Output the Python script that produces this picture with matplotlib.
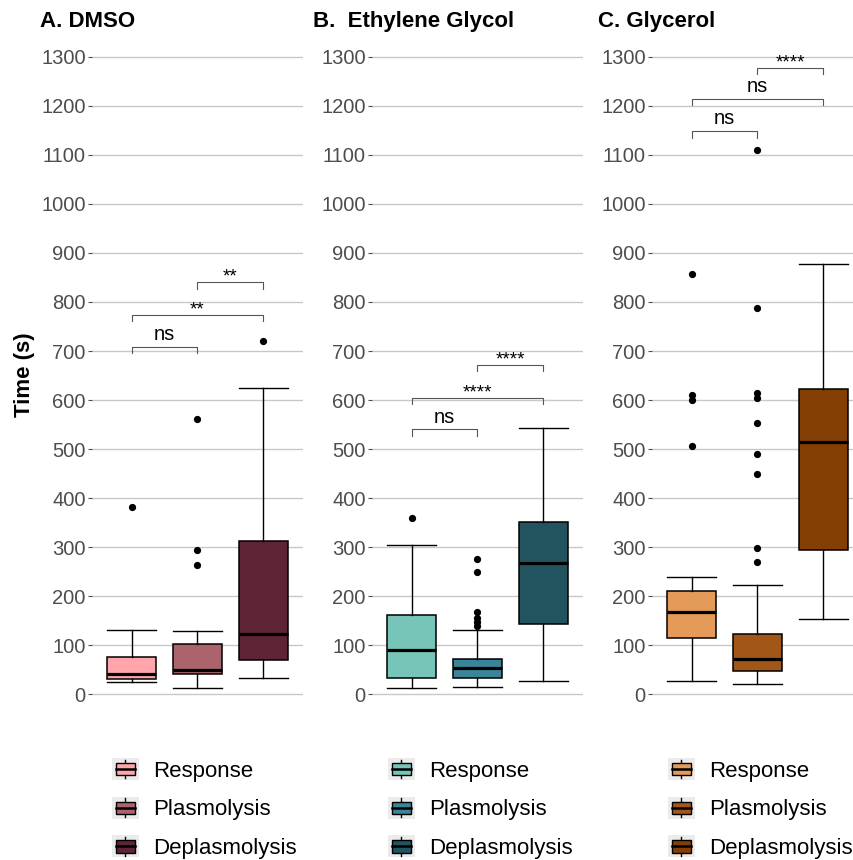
import matplotlib.pyplot as plt
from matplotlib.patches import Patch, Rectangle
from matplotlib.lines import Line2D
from matplotlib.legend_handler import HandlerBase

plt.rcParams['font.family'] = ['Liberation Sans', 'DejaVu Sans']

# data (seconds)
categories = ['Response', 'Plasmolysis', 'Deplasmolysis']

dmso_low = [26, 12, 33]
dmso_q1 = [31, 41, 71]
dmso_med = [42, 50, 123]
dmso_q3 = [77, 102, 312]
dmso_high = [132, 130, 625]
dmso_out = [[382], [561, 294, 264], [721]]

eg_low = [12, 14, 27]
eg_q1 = [33, 34, 143]
eg_med = [91, 54, 267]
eg_q3 = [162, 73, 351]
eg_high = [305, 132, 543]
eg_out = [[360], [276, 250, 167, 156, 148, 140], []]

gly_low = [28, 22, 153]
gly_q1 = [114, 48, 294]
gly_med = [168, 73, 514]
gly_q3 = [210, 123, 623]
gly_high = [240, 222, 878]
gly_out = [[857, 611, 601, 507], [1110, 787, 614, 604, 554, 489, 450, 299, 270], []]

# significance brackets: pairs, heights, labels
pairs = [(1, 2), (1, 3), (2, 3)]
dmso_sig_y = [709, 774, 840]
dmso_sig = ['ns', '**', '**']
eg_sig_y = [540, 605, 672]
eg_sig = ['ns', '****', '****']
gly_sig_y = [1148, 1214, 1278]
gly_sig = ['ns', 'ns', '****']

dmso_colors = ['#FFA5AB', '#AC646C', '#5E2434']
eg_colors = ['#77C4B9', '#3A8698', '#225460']
gly_colors = ['#E49A58', '#A25618', '#844004']

titles = ['A. DMSO', 'B.  Ethylene Glycol', 'C. Glycerol']
yticks = list(range(0, 1400, 100))


class BoxKey(HandlerBase):
    def create_artists(self, legend, orig_handle, xdescent, ydescent,
                       width, height, fontsize, trans):
        x0, y0 = -xdescent, -ydescent
        cx, cy = x0 + width / 2, y0 + height / 2
        bg = Rectangle((x0, y0), width, height, facecolor='#EBEBEB',
                       edgecolor='none', transform=trans)
        wl = Line2D([cx, cx], [y0 + 0.08 * height, y0 + 0.92 * height],
                    color='black', lw=1, transform=trans)
        bw, bh = 0.72 * width, 0.56 * height
        box = Rectangle((cx - bw / 2, cy - bh / 2), bw, bh,
                        facecolor=orig_handle.get_facecolor(),
                        edgecolor='black', lw=1, transform=trans)
        med = Line2D([cx - bw / 2, cx + bw / 2], [cy, cy], color='black',
                     lw=1.8, transform=trans)
        return [bg, wl, box, med]


fig = plt.figure(figsize=(8.54, 8.6), dpi=100)

panels = [
    (dmso_low, dmso_q1, dmso_med, dmso_q3, dmso_high, dmso_out, dmso_colors, dmso_sig_y, dmso_sig),
    (eg_low, eg_q1, eg_med, eg_q3, eg_high, eg_out, eg_colors, eg_sig_y, eg_sig),
    (gly_low, gly_q1, gly_med, gly_q3, gly_high, gly_out, gly_colors, gly_sig_y, gly_sig),
]
lefts = [92, 372, 652]
title_x = [40, 313, 598]
legend_x = [112, 388, 668]

for i, (lo, q1, med, q3, hi, out, cols, sy, sl) in enumerate(panels):
    ax = fig.add_axes([lefts[i] / 854, 1 - 712 / 860, 211 / 854, 670 / 860])
    stats = []
    for j in range(3):
        stats.append(dict(whislo=lo[j], q1=q1[j], med=med[j], q3=q3[j],
                          whishi=hi[j], fliers=out[j], label=categories[j]))
    bp = ax.bxp(stats, positions=[1, 2, 3], widths=0.75, capwidths=0.75,
                patch_artist=True, showfliers=True,
                boxprops=dict(edgecolor='black', linewidth=1.1),
                medianprops=dict(color='black', linewidth=2.3),
                whiskerprops=dict(color='black', linewidth=1.0),
                capprops=dict(color='black', linewidth=1.0),
                flierprops=dict(marker='o', markerfacecolor='black',
                                markeredgecolor='black', markersize=4.2))
    for patch, c in zip(bp['boxes'], cols):
        patch.set_facecolor(c)
        patch.set_zorder(3)
    for key in ['medians', 'whiskers', 'caps', 'fliers']:
        for a in bp[key]:
            a.set_zorder(3)

    # brackets
    for (a, b), y, lab in zip(pairs, sy, sl):
        ax.plot([a, a, b, b], [y - 13, y, y, y - 13], color='#555555', lw=0.8, zorder=4)
        if lab == 'ns':
            ax.text((a + b) / 2, y + 14, lab, ha='center', va='baseline', fontsize=14.5, color='black')
        else:
            ax.text((a + b) / 2, y + 1, lab, ha='center', va='baseline', fontsize=13.5, color='black')

    ax.set_xlim(0.4, 3.6)
    ax.set_ylim(-36, 1330)
    ax.set_yticks(yticks)
    ax.set_xticks([])
    ax.yaxis.grid(True, color='#C8C8C8', linewidth=1.0)
    ax.set_axisbelow(True)
    for s in ax.spines.values():
        s.set_visible(False)
    ax.tick_params(axis='y', length=3, width=0.8, color='#4D4D4D', pad=1.5,
                   labelsize=14.5, labelcolor='#4D4D4D')

    fig.text(title_x[i] / 854, 1 - 27 / 860, titles[i], fontsize=16,
             fontweight='bold', ha='left', va='baseline')

    handles = [Patch(facecolor=c, label=l) for c, l in zip(cols, categories)]
    fig.legend(handles=handles, loc='upper left',
               bbox_to_anchor=(legend_x[i] / 854, 1 - 758 / 860),
               bbox_transform=fig.transFigure, frameon=False, borderpad=0,
               borderaxespad=0, handlelength=1.2, handleheight=1.15,
               handletextpad=0.63, labelspacing=0.68, fontsize=16,
               handler_map={Patch: BoxKey()})

fig.text(25 / 854, 1 - 375 / 860, 'Time (s)', rotation=90, fontsize=16,
         fontweight='bold', ha='center', va='center')

fig.savefig('out.png', dpi=100)
